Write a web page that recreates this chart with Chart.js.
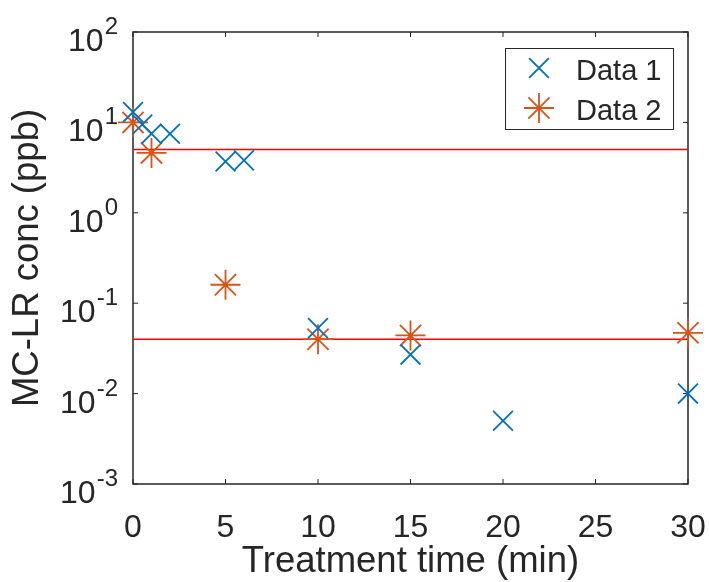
<!DOCTYPE html>
<html><head><meta charset="utf-8">
<script src="https://cdn.jsdelivr.net/npm/chart.js@4/dist/chart.umd.min.js"></script>
<style>html,body{margin:0;padding:0;background:#fff}#wrap{width:709px;height:582px}</style>
</head><body><div id="wrap"><canvas id="c" width="709" height="582"></canvas></div>
<script>
// Measured MC-LR concentrations against treatment time
const seriesNames = ['Data 1', 'Data 2'];
const data1Time = [0, 0.5, 1, 2, 5, 6, 10, 15, 20, 30];
const data1Conc = [13, 9.5, 7.5, 7.5, 3.7, 3.8, 0.053, 0.027, 0.005, 0.01];
const data2Time = [0, 1, 5, 10, 15, 30];
const data2Conc = [10, 4.6, 0.16, 0.04, 0.044, 0.047];
// Horizontal reference levels (ppb)
const limitLevels = [5, 0.04];
const timeRange = [0, 30];
const xTickValues = [0, 5, 10, 15, 20, 25, 30];
const yTickExponents = [-3, -2, -1, 0, 1, 2];

const FONT = '"Liberation Sans", Arial, Helvetica, sans-serif';
const INK = '#262626';
const BLUE = '#0072BD';
const ORANGE = '#D95319';

const toPoints = (xs, ys) => xs.map((x, i) => ({x: x, y: ys[i]}));

const limitSets = limitLevels.map(v => ({
  label: 'limit',
  data: timeRange.map(t => ({x: t, y: v})),
  showLine: true,
  borderColor: '#FF0000',
  borderWidth: 1.5,
  pointRadius: 0,
  pointHoverRadius: 0,
  clip: false
}));

const markerSets = [
  {label: seriesNames[0], data: toPoints(data1Time, data1Conc), pointStyle: 'crossRot',
   pointRadius: 14, pointBorderWidth: 1.8, borderColor: BLUE, backgroundColor: BLUE, showLine: false, clip: false},
  {label: seriesNames[1], data: toPoints(data2Time, data2Conc), pointStyle: 'star',
   pointRadius: 15, pointBorderWidth: 1.8, borderColor: ORANGE, backgroundColor: ORANGE, showLine: false, clip: false}
];

// Axes box with inward tick marks on all four sides
const boxPlugin = {
  id: 'box',
  beforeDatasetsDraw(chart) {
    const {ctx, chartArea: a, scales} = chart;
    const tl = 5;
    ctx.save();
    ctx.strokeStyle = INK;
    ctx.lineWidth = 1.5;
    ctx.strokeRect(a.left, a.top, a.right - a.left, a.bottom - a.top);
    ctx.lineWidth = 1;
    ctx.beginPath();
    scales.x.ticks.forEach(t => {
      const px = scales.x.getPixelForValue(t.value);
      ctx.moveTo(px, a.bottom); ctx.lineTo(px, a.bottom - tl);
      ctx.moveTo(px, a.top); ctx.lineTo(px, a.top + tl);
    });
    scales.y.ticks.forEach(t => {
      const py = scales.y.getPixelForValue(t.value);
      ctx.moveTo(a.left, py); ctx.lineTo(a.left + tl, py);
      ctx.moveTo(a.right, py); ctx.lineTo(a.right - tl, py);
    });
    ctx.stroke();
    ctx.restore();
  },
  // Power-of-ten tick labels with raised exponents
  afterDraw(chart) {
    const {ctx, chartArea: a, scales} = chart;
    const y = scales.y;
    const right = a.left - 15;
    ctx.save();
    ctx.fillStyle = INK;
    ctx.textBaseline = 'alphabetic';
    ctx.textAlign = 'left';
    y.ticks.forEach(t => {
      const py = y.getPixelForValue(t.value);
      const exp = String(Math.round(Math.log10(t.value)));
      ctx.font = '24px ' + FONT;
      const ew = ctx.measureText(exp).width;
      ctx.fillText(exp, right - ew, py + 2);
      ctx.font = '32px ' + FONT;
      const bw = ctx.measureText('10').width;
      ctx.fillText('10', right - ew - bw - 1, py + 19);
    });
    ctx.restore();
  }
};

// Boxed legend in the upper right corner of the axes
function drawMarker(ctx, style, r, x, y) {
  ctx.beginPath();
  const d = Math.cos(Math.PI / 4) * r;
  ctx.moveTo(x - d, y - d); ctx.lineTo(x + d, y + d);
  ctx.moveTo(x - d, y + d); ctx.lineTo(x + d, y - d);
  if (style === 'star') {
    ctx.moveTo(x - r, y); ctx.lineTo(x + r, y);
    ctx.moveTo(x, y - r); ctx.lineTo(x, y + r);
  }
  ctx.stroke();
}
const legendPlugin = {
  id: 'boxLegend',
  afterDraw(chart) {
    const {ctx, chartArea: a} = chart;
    const bx1 = a.right - 15, bx0 = bx1 - 168, by0 = a.top + 16, by1 = by0 + 81;
    ctx.save();
    ctx.fillStyle = '#fff';
    ctx.fillRect(bx0, by0, bx1 - bx0, by1 - by0);
    ctx.strokeStyle = INK;
    ctx.lineWidth = 1;
    ctx.strokeRect(bx0 + 0.5, by0 + 0.5, bx1 - bx0, by1 - by0);
    markerSets.forEach((ds, i) => {
      const cy = by0 + 20 + i * 40;
      ctx.strokeStyle = ds.borderColor;
      ctx.lineWidth = ds.pointBorderWidth;
      drawMarker(ctx, ds.pointStyle, ds.pointRadius, bx0 + 34, cy);
      ctx.fillStyle = INK;
      ctx.font = '29px ' + FONT;
      ctx.textBaseline = 'middle';
      ctx.textAlign = 'left';
      ctx.fillText(ds.label, bx0 + 71, cy + 4);
    });
    ctx.restore();
  }
};

new Chart(document.getElementById('c'), {
  type: 'scatter',
  data: {datasets: [...markerSets, ...limitSets]},
  options: {
    responsive: false,
    animation: false,
    devicePixelRatio: 1,
    layout: {padding: {left: 0, top: 32, right: 21, bottom: 0}},
    plugins: {legend: {display: false}, tooltip: {enabled: false}},
    scales: {
      x: {
        type: 'linear', min: timeRange[0], max: timeRange[1],
        afterBuildTicks: s => { s.ticks = xTickValues.map(v => ({value: v})); },
        afterFit: s => { s.height = 98; s.paddingLeft = 0; s.paddingRight = 0; },
        grid: {display: false},
        border: {display: false},
        ticks: {color: INK, font: {family: FONT, size: 32}, padding: 17, autoSkip: false, maxRotation: 0},
        title: {display: true, text: 'Treatment time (min)', color: INK,
                font: {family: FONT, size: 36.5, lineHeight: 1.2}, padding: {top: 0, bottom: -2}}
      },
      y: {
        type: 'logarithmic', min: Math.pow(10, yTickExponents[0]), max: Math.pow(10, yTickExponents[yTickExponents.length - 1]),
        afterBuildTicks: s => { s.ticks = yTickExponents.map(e => ({value: Math.pow(10, e)})); },
        afterFit: s => { s.width = 133; s.paddingTop = 0; s.paddingBottom = 0; },
        grid: {display: false},
        border: {display: false},
        ticks: {display: false},
        title: {display: true, text: 'MC-LR conc (ppb)', color: INK,
                font: {family: FONT, size: 36.5, lineHeight: 1.2}, padding: {top: 6, bottom: 0}}
      }
    }
  },
  plugins: [boxPlugin, legendPlugin]
});
</script></body></html>
